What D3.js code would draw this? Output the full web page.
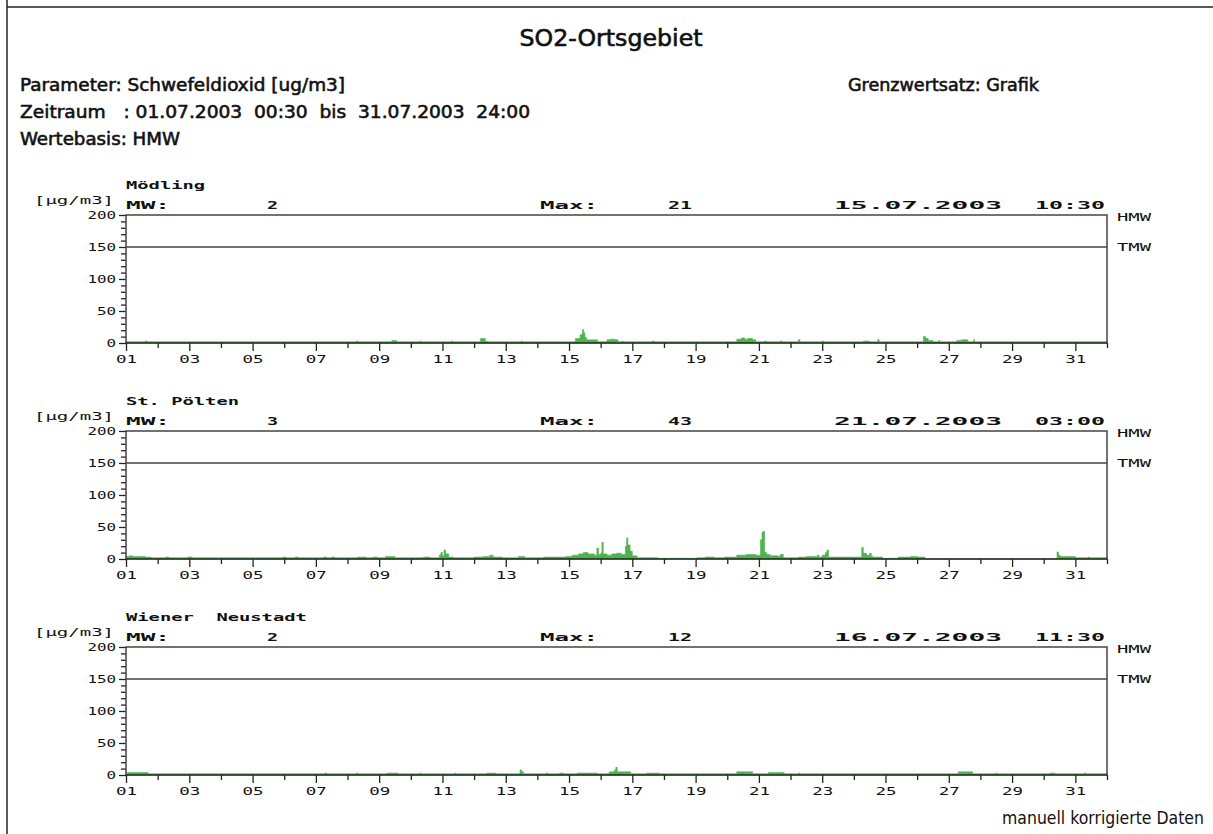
<!DOCTYPE html>
<html lang="de">
<head>
  <meta charset="UTF-8">
  <title>SO2-Ortsgebiet</title>
  <style>
    body {
      margin: 0;
      background: #fff;
      overflow: hidden;
    }
    svg {
      display: block;
    }
    text {
      white-space: pre;
    }
    .head {
      stroke: #111;
      stroke-width: 0.55px;
    }
    .frame {
      fill: none;
      stroke: #222;
      stroke-width: 1.5px;
    }
    .box {
      fill: none;
      stroke: #444;
      stroke-width: 1.5px;
    }
    .axis path {
      display: none;
    }
    .axis line {
      stroke: #222;
      stroke-width: 1.3px;
    }
    .axis text {
      font-family: "DejaVu Sans Mono", monospace;
      font-size: 10px;
      fill: #111;
    }
  </style>
</head>
<body>
  <svg width="1213" height="834"></svg>

  <script src="https://d3js.org/d3.v7.min.js"></script>
  <script>
    // --- data -----------------------------------------------------------
    const stations = ["Mödling", "St. Pölten", "Wiener  Neustadt"];
    const meanValues = [2, 3, 2];
    const maxValues = [21, 43, 12];
    const maxDates = ["15.07.2003", "21.07.2003", "16.07.2003"];
    const maxClock = ["10:30", "03:00", "11:30"];

    const xTickDays = [1, 3, 5, 7, 9, 11, 13, 15, 17, 19, 21, 23, 25, 27, 29, 31];
    const xTickLabels = ["01", "03", "05", "07", "09", "11", "13", "15",
                         "17", "19", "21", "23", "25", "27", "29", "31"];
    const xMinorDays = [2, 4, 6, 8, 10, 12, 14, 16, 18, 20, 22, 24, 26, 28, 30, 32];
    const yTicks = [0, 50, 100, 150, 200];
    const yMinorTicks = [10, 20, 30, 40, 60, 70, 80, 90, 110, 120, 130, 140, 160, 170, 180, 190];
    const tmwLimit = 150;

    // half-hour series, kept as [day of July, value] break points (step after)
    const moedling = [
      [1, 2], [1.6, 3], [1.67, 2], [8.28, 3], [8.33, 2], [9.4, 4], [9.55, 2],
      [10.28, 3], [10.33, 2], [11.28, 3], [11.33, 2], [12.2, 7], [12.35, 3], [12.4, 2],
      [13.48, 3], [13.53, 2], [15.2, 7], [15.35, 13], [15.42, 21], [15.46, 16],
      [15.5, 9], [15.55, 5], [15.9, 2], [16.2, 5], [16.3, 6], [16.45, 5], [16.55, 2],
      [16.68, 3], [16.72, 2], [17.63, 3], [17.7, 2], [20.3, 6], [20.45, 8], [20.55, 6],
      [20.65, 7], [20.8, 5], [20.9, 2], [21.18, 3], [21.24, 2], [21.68, 3], [21.74, 2],
      [22.25, 5], [22.3, 2], [23.0, 3], [23.05, 2], [24.3, 3], [24.5, 2], [24.75, 5],
      [24.8, 2], [26.2, 10], [26.27, 7], [26.35, 4], [26.5, 2], [26.68, 4], [26.72, 2],
      [27.25, 4], [27.4, 5], [27.6, 2], [27.78, 5], [27.82, 2], [32, 2]
    ];
    const stPoelten = [
      [1, 4], [1.1, 5], [1.2, 4], [1.6, 3], [1.8, 2], [2.25, 3], [2.35, 2], [2.95, 3],
      [3.1, 2], [5.95, 3], [6.05, 2], [6.35, 3], [6.45, 2], [7.25, 3], [7.35, 2],
      [7.5, 3], [7.6, 2], [8.3, 3], [8.6, 2], [8.8, 3], [8.95, 2], [9.2, 4], [9.5, 2],
      [10.4, 3], [10.6, 2], [10.9, 6], [10.95, 10], [11.0, 5], [11.05, 14], [11.1, 8],
      [11.2, 3], [11.35, 2], [12.0, 3], [12.3, 4], [12.5, 6], [12.6, 3], [12.9, 2],
      [13.4, 4], [13.6, 2], [14.2, 3], [14.9, 4], [15.1, 6], [15.3, 8], [15.45, 10],
      [15.6, 8], [15.8, 6], [15.88, 17], [15.93, 7], [16.0, 9], [16.04, 26], [16.08, 8],
      [16.2, 6], [16.35, 8], [16.5, 9], [16.65, 7], [16.78, 20], [16.82, 33], [16.86, 22],
      [16.93, 12], [17.0, 5], [17.15, 2], [17.8, 1], [19.05, 2], [19.3, 3], [19.6, 2],
      [19.9, 3], [20.3, 6], [20.6, 7], [20.9, 6], [21.05, 30], [21.1, 42], [21.14, 43],
      [21.18, 10], [21.25, 7], [21.35, 5], [21.6, 4], [21.67, 7], [21.77, 2], [22.25, 3],
      [22.5, 4], [22.85, 6], [22.9, 3], [23.0, 6], [23.1, 10], [23.15, 14], [23.2, 3],
      [24.25, 18], [24.3, 9], [24.4, 6], [24.5, 9], [24.55, 4], [24.6, 3], [24.9, 1],
      [25.4, 3], [25.8, 4], [26.0, 3], [26.25, 0], [30.42, 11], [30.47, 6], [30.52, 4],
      [31.0, 2], [31.4, 3], [31.45, 2], [32, 2]
    ];
    const wrNeustadt = [
      [1, 2], [1.05, 4], [1.7, 2], [7.28, 3], [7.35, 2], [8.28, 3], [8.33, 2], [9.25, 3],
      [9.6, 2], [10.28, 3], [10.33, 2], [11.38, 3], [11.43, 2], [12.4, 3], [12.7, 2],
      [13.45, 8], [13.5, 5], [13.56, 2], [14.28, 3], [14.33, 2], [14.7, 3], [14.82, 2],
      [15.25, 3], [15.9, 2], [16.27, 5], [16.44, 8], [16.48, 12], [16.52, 5], [16.95, 2],
      [17.45, 3], [17.85, 2], [20.3, 5], [20.8, 2], [21.3, 4], [21.8, 2], [22.25, 3],
      [22.3, 2], [27.3, 5], [27.75, 2], [28.48, 3], [28.53, 2], [30.2, 3], [30.35, 2],
      [31.28, 3], [31.33, 2], [32, 2]
    ];
    const series = [moedling, stPoelten, wrNeustadt];

    // --- layout --------------------------------------------------------
    const svg = d3.select("svg");
    const W = 1213, H = 834;
    const left = 126, right = 1107;
    const panelTop = 215, panelH = 128, panelStep = 216;
    const green = "#4db44d";

    const x = d3.scaleLinear().domain([1, 32]).range([left, right]);

    // little helper: text squeezed/stretched to a measured width
    function txt(g, str, px, py, o) {
      const t = g.append("text")
        .attr("x", px).attr("y", py)
        .attr("font-family", o.font || "DejaVu Sans Mono")
        .attr("font-size", o.size || 10)
        .attr("font-weight", o.bold ? "bold" : "normal")
        .attr("text-anchor", o.anchor || "start")
        .attr("fill", "#111")
        .text(str);
      if (o.cls) t.attr("class", o.cls);
      if (o.len) t.attr("textLength", o.len).attr("lengthAdjust", "spacingAndGlyphs");
      return t;
    }

    // outer frame of the printout
    svg.append("line").attr("class", "frame")
      .attr("x1", 7).attr("x2", 7).attr("y1", 0).attr("y2", H);
    svg.append("line").attr("class", "frame")
      .attr("x1", 7).attr("x2", W).attr("y1", 7).attr("y2", 7);

    // header
    const narrow = "'Liberation Sans Narrow', 'DejaVu Sans Condensed', sans-serif";
    txt(svg, "SO2-Ortsgebiet", 611, 46, {font: narrow, size: 23, cls: "head", anchor: "middle", len: 183});
    txt(svg, "Parameter: Schwefeldioxid [ug/m3]", 20, 91, {font: narrow, size: 18, cls: "head", len: 325});
    txt(svg, "Zeitraum   : 01.07.2003  00:30  bis  31.07.2003  24:00", 20, 118, {font: narrow, size: 18, cls: "head", len: 510});
    txt(svg, "Wertebasis: HMW", 20, 145, {font: narrow, size: 18, cls: "head", len: 160});
    txt(svg, "Grenzwertsatz: Grafik", 848, 91, {font: narrow, size: 18, cls: "head", len: 191});
    txt(svg, "manuell korrigierte Daten", 1204, 824, {font: narrow, size: 17, anchor: "end", len: 202});

    series.forEach((data, i) => {
      const top = panelTop + i * panelStep;
      const y = d3.scaleLinear().domain([0, 200]).range([top + panelH, top]);
      const g = svg.append("g");

      // panel caption rows
      txt(g, stations[i], left, top - 26, {size: 11, bold: true, len: stations[i].length * 11.3});
      txt(g, "[µg/m3]", 114, top - 11, {size: 10, anchor: "end", len: 80});
      txt(g, "MW:", left, top - 6, {size: 11, bold: true, len: 44});
      txt(g, String(meanValues[i]), 278, top - 6, {size: 11, bold: true, anchor: "end", len: 11});
      txt(g, "Max:", 540, top - 6, {size: 11, bold: true, len: 58});
      txt(g, String(maxValues[i]), 668, top - 6, {size: 11, bold: true, len: 24});
      txt(g, maxDates[i], 1002, top - 6, {size: 11, bold: true, anchor: "end", len: 168});
      txt(g, maxClock[i], 1105, top - 6, {size: 11, bold: true, anchor: "end", len: 70});
      txt(g, "HMW", 1117, y(200) + 6, {size: 10, len: 34});
      txt(g, "TMW", 1117, y(tmwLimit) + 4, {size: 10, len: 34});

      // axes
      const yMajor = g.append("g").attr("class", "axis")
        .attr("transform", `translate(${left},0)`)
        .call(d3.axisLeft(y).tickValues(yTicks).tickSize(7).tickPadding(3));
      yMajor.selectAll("text")
        .attr("textLength", d => String(d).length * 9.5)
        .attr("lengthAdjust", "spacingAndGlyphs");
      g.append("g").attr("class", "axis")
        .attr("transform", `translate(${left},0)`)
        .call(d3.axisLeft(y).tickValues(yMinorTicks).tickSize(5).tickFormat(""));

      const xMajor = g.append("g").attr("class", "axis")
        .attr("transform", `translate(0,${y(0)})`)
        .call(d3.axisBottom(x).tickValues(xTickDays).tickSize(8).tickPadding(5)
          .tickFormat((d, k) => xTickLabels[k]));
      xMajor.selectAll("text")
        .attr("textLength", 21)
        .attr("lengthAdjust", "spacingAndGlyphs");
      g.append("g").attr("class", "axis")
        .attr("transform", `translate(0,${y(0)})`)
        .call(d3.axisBottom(x).tickValues(xMinorDays).tickSize(5).tickFormat(""));

      // measured values
      const area = d3.area()
        .x(d => x(d[0]))
        .y0(y(0))
        .y1(d => y(d[1]))
        .curve(d3.curveStepAfter);
      g.append("path").datum(data)
        .attr("d", area)
        .attr("fill", green)
        .attr("stroke", green)
        .attr("stroke-width", 0.6);

      // TMW limit line and plot box
      g.append("line").attr("class", "box")
        .attr("x1", left).attr("x2", right)
        .attr("y1", y(tmwLimit)).attr("y2", y(tmwLimit));
      g.append("path").attr("class", "box")
        .attr("d", `M${left},${y(0)}V${y(200)}H${right}V${y(0)}`);
      g.append("line")
        .attr("x1", left).attr("x2", right)
        .attr("y1", y(0)).attr("y2", y(0))
        .attr("stroke", "#222").attr("stroke-width", 1.5);
    });
  </script>
</body>
</html>
